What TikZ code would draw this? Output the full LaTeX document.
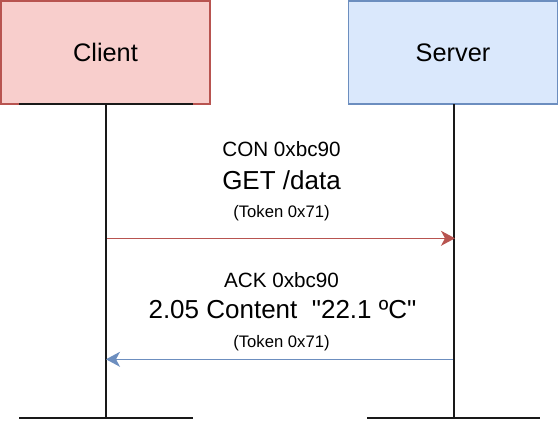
\documentclass[tikz,border=0pt]{standalone}
\usepackage{fontspec}
% no TeX ligature mapping, so " stays a straight quote
\setmainfont{Liberation Sans}[Ligatures=TeXOff]
\usetikzlibrary{arrows.meta}
\definecolor{cliFill}{HTML}{F8CECC}
\definecolor{cliLine}{HTML}{B85450}
\definecolor{srvFill}{HTML}{DAE8FC}
\definecolor{srvLine}{HTML}{6C8EBF}
% one drawing unit is 0.75pt
\tikzset{
  actor/.style={draw, line width=1.125pt, minimum width=156.75pt, minimum height=77.25pt, inner sep=0pt, font=\fontsize{19pt}{22pt}\selectfont},
  life/.style={draw=black!90, line width=1.5pt},
  msg/.style={line width=1.125pt, -{Stealth[length=10.5pt, width=11.25pt, inset=3pt]}},
  hdr/.style={font=\fontsize{15.5pt}{18pt}\selectfont, inner sep=0pt},
  big/.style={font=\fontsize{19.5pt}{22pt}\selectfont, inner sep=0pt},
  tok/.style={font=\fontsize{12.5pt}{15pt}\selectfont, inner sep=0pt}
}
\begin{document}
\begin{tikzpicture}[x=0.75pt, y=-0.75pt]
\useasboundingbox (0,0) rectangle (558,421);

% client participant: box first, then its top bar
\node[actor, fill=cliFill, draw=cliLine] (client) at (105.5,52.5) {Client};
\coordinate (cTopL) at (19,104);
\coordinate (cTopR) at (193,104);
\draw[life] (cTopL) -- (cTopR);

% server participant: top bar first, then the box over it
\coordinate (sTopL) at (367,104);
\coordinate (sTopR) at (540,104);
\draw[life] (sTopL) -- (sTopR);
\node[actor, fill=srvFill, draw=srvLine] (server) at (453,52.5) {Server};

% lifelines and their foot bars
\coordinate (cTop) at (106,104);
\coordinate (cBot) at (106,417.5);
\coordinate (sTop) at (453.5,104);
\coordinate (sBot) at (453.5,417.5);
\coordinate (cFootL) at (19,417.5);
\coordinate (cFootR) at (193,417.5);
\coordinate (sFootL) at (367,417.5);
\coordinate (sFootR) at (540,417.5);
\draw[life] (cTop) -- (cBot);
\draw[life] (sTop) -- (sBot);
\draw[life] (cFootL) -- (cFootR);
\draw[life] (sFootL) -- (sFootR);

% request
\node[hdr] (reqHdr) at (281.5,149) {CON 0xbc90};
\node[big] (reqBody) at (281.5,180) {GET /data};
\node[tok] (reqTok) at (281.5,213.5) {(Token 0x71)};
\coordinate (reqFrom) at (107,238.3);
\coordinate (reqTo) at (455,238.3);
\draw[msg, draw=cliLine, fill=cliLine] (reqFrom) -- (reqTo);

% response
\node[hdr] (resHdr) at (281.5,280) {ACK 0xbc90};
\node[big] (resBody) at (282.5,309.5) {2.05 Content\ \ "22.1 ºC"};
\node[tok] (resTok) at (281.5,343) {(Token 0x71)};
\coordinate (resFrom) at (453,359.3);
\coordinate (resTo) at (106,359.3);
\draw[msg, draw=srvLine, fill=srvLine] (resFrom) -- (resTo);
\end{tikzpicture}
\end{document}
